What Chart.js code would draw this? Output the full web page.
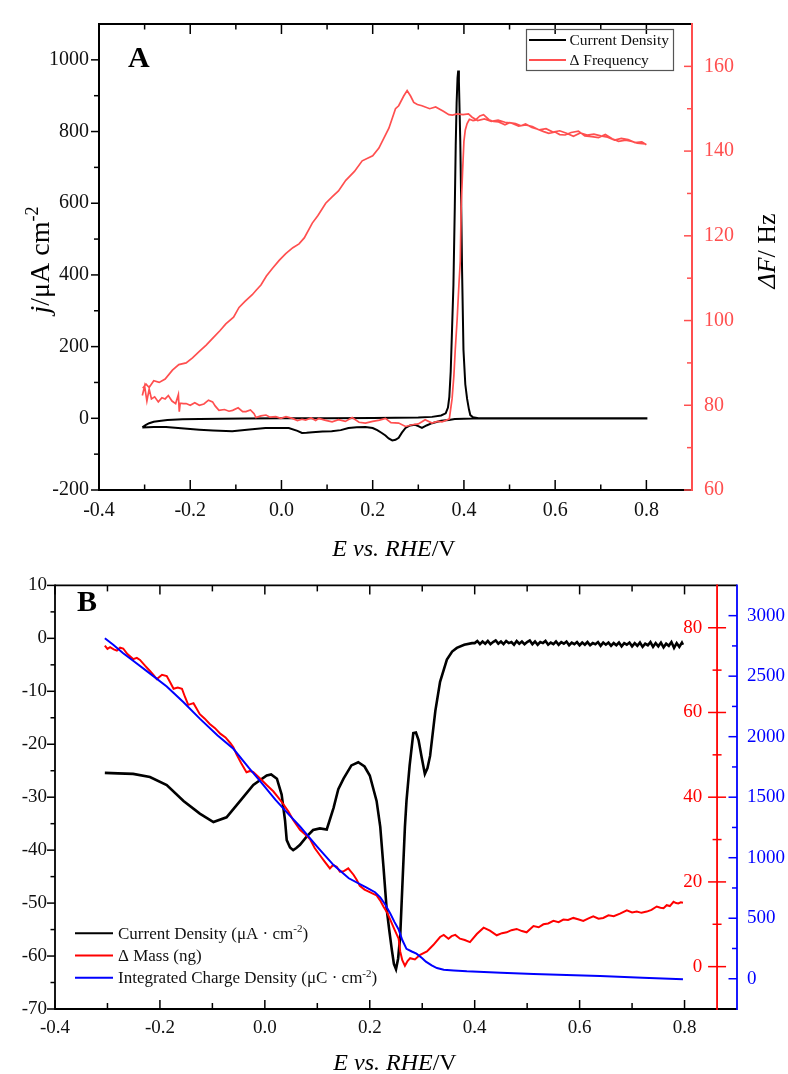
<!DOCTYPE html>
<html lang="en"><head><meta charset="utf-8"><title>Chart</title>
<script src="https://cdn.jsdelivr.net/npm/chart.js@4.4.1/dist/chart.umd.min.js"></script>
<style>
html,body{margin:0;padding:0;background:#fff;}
#wrapA{position:absolute;left:0;top:0;width:788px;height:560px;}
#wrapB{position:absolute;left:0;top:560px;width:788px;height:514px;}
canvas{display:block;}
</style></head><body>
<div id="wrapA"><canvas id="chartA" width="788" height="560"></canvas></div>
<div id="wrapB"><canvas id="chartB" width="788" height="514"></canvas></div>
<script>
// ---------- shared tick arrays ----------
const xTicks = [-0.4, -0.2, 0, 0.2, 0.4, 0.6, 0.8];
const xMinor = [-0.3, -0.1, 0.1, 0.3, 0.5, 0.7];

// ---------- Panel A ----------
const jTicksA = [-200, 0, 200, 400, 600, 800, 1000];
const jMinorA = [-100, 100, 300, 500, 700, 900];
const fTicksA = [60, 80, 100, 120, 140, 160];
const fMinorA = [70, 90, 110, 130, 150];

// Current density loop (anodic sweep then cathodic sweep)
const cdA_E = [
  -0.305,-0.298,-0.29,-0.28,-0.268,-0.25,-0.217,-0.18,-0.13,-0.08,
  0.0,0.1,0.2,0.3,0.33,0.35,0.36,0.365,0.368,0.371,
  0.374,0.377,0.38,0.382,0.384,0.386,0.3875,0.389,0.3905,0.392,
  0.394,0.396,0.399,0.403,0.407,0.411,0.414,0.42,0.432,0.5,
  0.6,0.7,0.8,
  0.8,0.7,0.6,0.5,0.42,0.38,0.367,0.35,0.33,0.318,
  0.308,0.3,0.293,0.282,0.272,0.264,0.257,0.25,0.243,0.235,
  0.228,0.22,0.21,0.2,0.184,0.165,0.147,0.13,0.11,0.09,
  0.068,0.055,0.045,0.035,0.016,0.0,-0.035,-0.07,-0.108,-0.15,
  -0.18,-0.22,-0.253,-0.28,-0.305
];
const cdA_j = [
  -25,-19,-13.6,-9.5,-7.2,-5,-2.6,-1.8,-1,-0.5,
  0,0.3,0.8,2,4,8,14,30,60,130,
  250,372,590,760,880,950,970,940,860,772,
  600,409,191,95,54,25,9,3,0.5,0,
  0,0,0,
  -0.5,-0.5,-0.5,-0.5,-0.8,-2,-4.5,-7,-13.6,-20,
  -27,-22,-18,-20,-27,-40,-54.5,-60,-61.6,-56,
  -48,-40.9,-33,-27,-24.5,-25,-27,-33,-36.2,-37,
  -39,-40.5,-40.9,-35,-27,-27,-27,-31,-36.2,-34,
  -31.7,-28,-24.5,-24.5,-25.3
];

// Frequency change loop
const dfA_E = [
  -0.305,-0.300,-0.295,-0.290,-0.285,-0.278,-0.27,-0.262,-0.255,-0.248,
  -0.24,-0.232,-0.226,-0.224,-0.222,-0.215,-0.209,-0.2,-0.19,-0.18,
  -0.17,-0.16,-0.151,-0.145,-0.137,-0.125,-0.115,-0.107,-0.095,-0.085,
  -0.078,-0.068,-0.06,-0.056,-0.045,-0.034,-0.025,-0.0125,-0.0015,0.01,
  0.024,0.035,0.045,0.053,0.065,0.075,0.082,0.095,0.111,0.125,
  0.14,0.155,0.17,0.184,0.2,0.215,0.228,0.24,0.257,0.272,
  0.287,0.3,0.308,0.315,0.33,0.342,0.352,0.36,0.368,0.374,
  0.378,0.381,0.385,0.389,0.392,0.394,0.397,0.40,0.403,0.407,
  0.412,0.42,
  0.425,0.435,0.443,0.455,0.465,0.476,0.49,0.5,0.513,0.525,
  0.535,0.549,0.56,0.575,0.586,0.6,0.61,0.622,0.635,0.651,
  0.665,0.68,0.695,0.71,0.725,0.739,0.755,0.768,0.78,0.797,
  0.8,0.79,0.775,0.76,0.745,0.73,0.715,0.70,0.685,0.67,
  0.655,0.64,0.625,0.61,0.595,0.58,0.565,0.55,0.535,0.52,
  0.505,0.49,0.475,0.46,0.445,0.43,0.418,0.41,0.398,0.385,
  0.375,0.367,0.355,0.338,0.325,0.308,0.298,0.29,0.283,0.2755,
  0.268,0.257,0.25,0.2355,0.2136,0.2,0.177,0.16,0.141,0.125,
  0.111,0.097,0.08,0.0676,0.05,0.0385,0.025,0.0094,-0.005,-0.02,
  -0.033,-0.045,-0.055,-0.064,-0.08,-0.093,-0.105,-0.122,-0.135,-0.151,
  -0.165,-0.18,-0.195,-0.209,-0.225,-0.239,-0.255,-0.268,-0.28,-0.29,
  -0.297,-0.304
];
const dfA_Hz = [
  82.3,84.5,81.0,83.8,81.5,82.0,80.8,81.8,81.5,82.3,
  81.0,80.4,82.5,78.5,80.5,80.4,80.4,80.0,80.6,80.0,
  80.3,81.2,80.8,79.8,78.8,79.0,78.6,78.8,79.4,78.5,
  78.5,78.9,78.0,77.1,77.5,77.7,77.2,77.3,76.9,77.3,
  76.9,76.4,76.7,76.5,77.0,76.4,76.9,76.5,76.1,76.6,
  76.2,77.1,76.0,75.8,76.2,76.5,76.9,75.9,75.8,75.0,
  75.4,75.6,76.1,76.6,75.8,76.2,76.1,76.4,76.8,81.5,
  87.0,93.1,100.0,108.4,114.0,126.9,135.0,142.3,145.0,146.5,
  147.5,147.2,
  147.3,148.3,148.6,147.4,147.0,146.9,146.2,146.7,146.5,146.0,
  146.4,145.6,145.2,144.6,144.2,144.5,143.9,143.8,144.4,144.7,
  143.6,143.4,143.2,143.9,142.9,142.3,142.6,142.3,141.9,141.7,
  141.5,142.2,142.0,142.7,143.0,142.6,143.3,143.6,144.0,143.8,
  144.3,143.5,144.2,144.8,144.5,145.3,145.0,145.8,146.2,145.9,
  146.6,146.8,147.3,147.0,147.6,147.2,148.0,148.8,148.6,148.8,
  148.5,148.6,149.4,150.4,150.0,150.7,151.0,151.5,153.0,154.3,
  153.0,150.7,150.0,145.4,140.7,138.9,137.7,135.2,133.1,130.6,
  129.2,127.7,124.8,123.0,119.5,118.1,117.2,115.8,114.2,112.3,
  110.5,108.4,107.2,106.1,104.5,103.1,100.8,99.2,97.6,95.8,
  94.2,92.7,91.2,90.0,89.6,88.3,86.2,85.4,85.8,84.2,
  85.0,84.0
];

// ---------- Panel B ----------
const jTicksB = [-70, -60, -50, -40, -30, -20, -10, 0, 10];
const jMinorB = [-65, -55, -45, -35, -25, -15, -5, 5];
const mTicksB = [0, 20, 40, 60, 80];
const mMinorB = [10, 30, 50, 70];
const qTicksB = [0, 500, 1000, 1500, 2000, 2500, 3000];
const qMinorB = [250, 750, 1250, 1750, 2250, 2750];

const cdB_E = [
  -0.305,-0.28,-0.251,-0.219,-0.187,-0.155,-0.124,-0.098,-0.073,-0.047,
  -0.022,0.0036,0.012,0.023,0.032,0.0385,0.0417,0.048,0.054,0.06,
  0.067,0.08,0.092,0.105,0.118,0.131,0.14,0.15,0.165,0.178,
  0.19,0.2,0.213,0.22,0.226,0.232,0.237,0.242,0.246,0.25,
  0.254,0.258,0.262,0.267,0.27,0.276,0.283,0.288,0.293,0.299,
  0.305,0.31,0.315,0.325,0.334,0.347,0.357,0.366,0.38,0.395,
  0.400,0.405,0.410,0.415,0.420,0.425,0.430,0.435,0.440,0.445,
  0.450,0.455,0.460,0.465,0.470,0.475,0.480,0.485,0.490,0.495,
  0.500,0.505,0.510,0.515,0.520,0.525,0.530,0.535,0.540,0.545,
  0.550,0.555,0.560,0.565,0.570,0.575,0.580,0.585,0.590,0.595,
  0.600,0.605,0.610,0.615,0.620,0.625,0.630,0.635,0.640,0.645,
  0.650,0.655,0.660,0.665,0.670,0.675,0.680,0.685,0.690,0.695,
  0.700,0.705,0.710,0.715,0.720,0.725,0.730,0.735,0.740,0.745,
  0.750,0.755,0.760,0.765,0.770,0.775,0.780,0.785,0.790,0.795,
  0.797
];
const cdB_j = [
  -25.4,-25.5,-25.6,-26.2,-27.7,-30.7,-33.1,-34.7,-33.8,-30.7,
  -27.7,-25.9,-25.7,-26.5,-29.5,-34.4,-38.1,-39.5,-40,-39.6,
  -39,-37.4,-36.2,-35.9,-36.1,-32,-28.5,-26.5,-24,-23.4,
  -24.2,-25.9,-30.7,-35.6,-43,-50.9,-55,-58.8,-61.5,-62.5,
  -60.5,-56.3,-47,-35.6,-30.7,-24,-17.9,-17.8,-19.2,-22.5,
  -25.6,-24.5,-22.2,-13.7,-8.2,-4.0,-2.5,-1.8,-1.2,-0.9,
  -0.9,-0.5,-1.1,-0.6,-1.0,-0.5,-1.1,-0.7,-0.4,-1.0,
  -0.6,-1.1,-0.5,-0.9,-0.7,-1.2,-0.5,-1.0,-0.6,-1.1,
  -0.7,-0.4,-1.1,-0.6,-1.2,-0.7,-0.9,-0.5,-1.2,-0.8,
  -1.1,-0.6,-1.2,-0.7,-1.0,-0.6,-1.3,-0.8,-1.1,-0.7,
  -1.3,-0.8,-1.2,-0.7,-1.3,-0.9,-1.1,-0.7,-1.4,-0.8,
  -1.2,-0.8,-1.4,-0.9,-1.3,-0.8,-1.5,-0.9,-1.2,-0.8,
  -1.5,-0.9,-1.4,-0.8,-1.6,-1.0,-1.3,-0.7,-1.6,-0.9,
  -1.5,-0.8,-1.7,-1.0,-1.4,-0.7,-1.8,-0.9,-1.6,-0.8,
  -1.2
];

const massB_E = [
  -0.305,-0.300,-0.295,-0.288,-0.282,-0.276,-0.270,-0.262,-0.251,-0.244,
  -0.238,-0.228,-0.219,-0.212,-0.206,-0.196,-0.187,-0.180,-0.174,-0.166,
  -0.158,-0.152,-0.146,-0.136,-0.124,-0.115,-0.105,-0.095,-0.085,-0.075,
  -0.066,-0.060,-0.054,-0.045,-0.035,-0.028,-0.022,-0.009,0.0034,0.016,
  0.025,0.035,0.045,0.054,0.067,0.076,0.086,0.095,0.105,0.114,
  0.124,0.130,0.137,0.143,0.150,0.159,0.169,0.175,0.181,0.190,
  0.200,0.213,0.220,0.226,0.233,0.239,0.247,0.255,0.258,0.262,
  0.267,0.272,0.277,0.286,0.296,0.309,0.321,0.334,0.341,0.350,
  0.356,0.363,0.372,0.381,0.391,0.404,0.417,0.429,0.442,0.452,
  0.461,0.470,0.480,0.490,0.499,0.512,0.522,0.531,0.540,0.550,
  0.560,0.569,0.578,0.588,0.597,0.607,0.617,0.626,0.636,0.645,
  0.655,0.665,0.677,0.690,0.700,0.709,0.718,0.728,0.737,0.747,
  0.754,0.760,0.766,0.772,0.779,0.784,0.788,0.793,0.797
];
const massB_ng = [
  75.8,75.0,75.4,74.9,74.6,75.3,75.1,73.8,72.6,72.9,
  72.4,71.0,69.8,68.8,67.9,68.9,68.6,67.0,65.6,65.9,
  65.6,63.6,61.8,62.2,59.6,58.6,57.3,56.3,55.0,54.1,
  52.8,51.8,50.1,48.0,45.9,46.2,45.9,44.4,42.9,41.4,
  40.0,38.4,36.6,34.6,32.3,31.3,30.1,28.0,26.3,24.8,
  23.2,24.0,23.6,22.4,22.5,23.2,21.7,20.5,19.1,18.2,
  17.6,16.8,15.6,14.2,12.8,11.1,8.8,6.6,3.6,1.5,
  0.2,1.3,2.0,1.7,2.8,3.6,5.1,7.0,7.5,6.6,
  7.2,7.5,6.6,6.3,5.8,7.7,9.2,8.5,7.4,7.9,
  8.1,8.6,8.9,8.4,8.1,9.6,9.3,10.0,10.2,10.8,
  10.5,11.1,11.0,11.5,11.2,10.8,11.4,11.9,11.3,11.5,
  12.1,11.9,12.5,13.3,12.8,13.0,12.7,13.0,13.4,14.2,
  13.9,13.8,14.5,14.3,15.3,15.0,14.9,15.2,15.1
];

const qB_E = [
  -0.305,-0.289,-0.270,-0.251,-0.220,-0.187,-0.155,-0.124,-0.090,-0.060,
  -0.030,-0.009,0.020,0.045,0.067,0.100,0.131,0.160,0.194,0.210,
  0.220,0.230,0.239,0.247,0.255,0.262,0.270,0.280,0.289,0.300,
  0.307,0.318,0.328,0.341,0.360,0.385,0.450,0.512,0.575,0.639,
  0.720,0.797
];
const qB_C = [
  2813,2760,2690,2627,2525,2415,2285,2149,2010,1900,
  1740,1633,1480,1360,1258,1090,939,830,753,715,
  673,610,540,470,407,320,247,225,207,170,
  141,110,88,75,68,61,50,40,31,22,
  8,-5
];

// ---------- helpers ----------
const SERIF = '"Liberation Serif", "Times New Roman", serif';
const RED_A = '#ff4f4f';
const RED_B = '#ff0000';
const BLUE_B = '#0000ff';
function pts(xs, ys) { return xs.map((x, i) => ({ x: x, y: ys[i] })); }
function fnt(size, it, bd) { return (it ? 'italic ' : '') + (bd ? 'bold ' : '') + size + 'px ' + SERIF; }
function richWidth(ctx, segs, size) {
  return segs.map(s => { ctx.font = fnt(s.sup ? size * 0.65 : size, s.i, s.b); return ctx.measureText(s.t).width; });
}
function drawRich(ctx, segs, x, y, size, color, rot, align) {
  ctx.save();
  ctx.translate(x, y);
  if (rot) ctx.rotate(rot);
  ctx.fillStyle = color; ctx.textBaseline = 'alphabetic'; ctx.textAlign = 'left';
  const ws = richWidth(ctx, segs, size);
  const total = ws.reduce((a, b) => a + b, 0);
  let cx = align === 'left' ? 0 : -total / 2;
  segs.forEach((s, k) => {
    ctx.font = fnt(s.sup ? size * 0.65 : size, s.i, s.b);
    ctx.fillText(s.t, cx, s.sup ? -size * 0.4 : 0);
    cx += ws[k];
  });
  ctx.restore();
}
function labelSegs(label) {
  const k = label.indexOf('cm-2');
  if (k < 0) return [{ t: label }];
  return [{ t: label.slice(0, k + 2) }, { t: '-2', sup: true }, { t: label.slice(k + 4) }];
}
const plain = v => String(v);
const oneDec = v => v.toFixed(1);
// labels of the offset axis are right-aligned on the axis line: pad them away from it
const padded = v => String(v) + '\u2002\u2009\u200A';

// axis frames, tick marks (major + minor), drawn from the chart's scales
const decorPlugin = {
  id: 'decor',
  afterDatasetsDraw(chart, args, o) {
    const ctx = chart.ctx, ca = chart.chartArea;
    ctx.save();
    ctx.lineCap = 'butt';
    for (const a of o.axes) {
      const sc = chart.scales[a.scale];
      ctx.strokeStyle = a.color;
      if (a.orient === 'v') {
        const X = a.at === 'left' ? ca.left : a.at === 'right' ? ca.right : chart.scales.x.getPixelForValue(a.at);
        ctx.lineWidth = a.lw;
        ctx.beginPath(); ctx.moveTo(X, ca.top - a.lw / 2); ctx.lineTo(X, ca.bottom + a.lw / 2); ctx.stroke();
        ctx.lineWidth = a.tw;
        const tk = (vals, r) => vals.forEach(v => {
          const Y = sc.getPixelForValue(v);
          ctx.beginPath(); ctx.moveTo(X + r[0], Y); ctx.lineTo(X + r[1], Y); ctx.stroke();
        });
        tk(a.major, a.majLen); tk(a.minor, a.minLen);
      } else {
        const Y = a.at === 'bottom' ? ca.bottom : ca.top;
        ctx.lineWidth = a.lw;
        ctx.beginPath(); ctx.moveTo(ca.left, Y); ctx.lineTo(ca.right, Y); ctx.stroke();
        ctx.lineWidth = a.tw;
        const tk = (vals, r) => vals.forEach(v => {
          const X = sc.getPixelForValue(v);
          ctx.beginPath(); ctx.moveTo(X, Y + r[0]); ctx.lineTo(X, Y + r[1]); ctx.stroke();
        });
        tk(a.major, a.majLen); tk(a.minor, a.minLen);
      }
    }
    ctx.restore();
  }
};

// rich (italic / superscript) axis titles and panel letters
const textPlugin = {
  id: 'richText',
  afterDraw(chart, args, o) {
    for (const t of o.items) drawRich(chart.ctx, t.segs, t.x, t.y, t.size, t.color || '#000', t.rot || 0, t.align);
  }
};

// legend built from the datasets
const legendPlugin = {
  id: 'lineLegend',
  afterDraw(chart, args, o) {
    const ctx = chart.ctx;
    ctx.save();
    if (o.box) {
      ctx.strokeStyle = o.boxColor; ctx.lineWidth = 1.2;
      ctx.strokeRect(o.box[0], o.box[1], o.box[2], o.box[3]);
    }
    chart.data.datasets.forEach((ds, i) => {
      const y = o.y + i * o.dy;
      ctx.strokeStyle = ds.borderColor; ctx.lineWidth = o.lw;
      ctx.beginPath(); ctx.moveTo(o.x, y); ctx.lineTo(o.x + o.len, y); ctx.stroke();
      drawRich(ctx, labelSegs(ds.label), o.x + o.len + o.gap, y + o.size * 0.33, o.size, '#111', 0, 'left');
    });
    ctx.restore();
  }
};

function linScale(extra) {
  return Object.assign({
    type: 'linear',
    grid: { display: false, drawTicks: false },
    border: { display: false }
  }, extra);
}
function tickSetter(arr) { return s => { s.ticks = arr.map(v => ({ value: v })); }; }

// ---------- Chart A ----------
new Chart(document.getElementById('chartA'), {
  type: 'scatter',
  data: {
    datasets: [
      { label: 'Current Density', data: pts(cdA_E, cdA_j), yAxisID: 'y', showLine: true,
        borderColor: '#000', borderWidth: 2, pointRadius: 0, order: 2 },
      { label: 'Δ Frequency', data: pts(dfA_E, dfA_Hz), yAxisID: 'y2', showLine: true,
        borderColor: RED_A, borderWidth: 1.7, pointRadius: 0, order: 1 }
    ]
  },
  options: {
    responsive: false, animation: false, events: [],
    layout: { padding: { top: 13, left: 0, right: 0, bottom: 0 } },
    scales: {
      x: linScale({ position: 'bottom', min: -0.4, max: 0.9, afterBuildTicks: tickSetter(xTicks),
        afterFit: s => { s.height = 70; },
        ticks: { callback: oneDec, font: { family: SERIF, size: 20 }, color: '#111', padding: 9, maxRotation: 0, autoSkip: false } }),
      y: linScale({ position: 'left', min: -200, max: 1100, afterBuildTicks: tickSetter(jTicksA),
        afterFit: s => { s.width = 99; },
        ticks: { callback: plain, font: { family: SERIF, size: 20 }, color: '#111', padding: 10, autoSkip: false } }),
      y2: linScale({ position: 'right', min: 60, max: 170, afterBuildTicks: tickSetter(fTicksA),
        afterFit: s => { s.width = 96; },
        ticks: { callback: plain, font: { family: SERIF, size: 20 }, color: RED_A, padding: 12, autoSkip: false } })
    },
    plugins: {
      legend: { display: false }, tooltip: { enabled: false },
      decor: { axes: [
        { scale: 'x', orient: 'h', at: 'bottom', color: '#000', lw: 2, tw: 1.5, major: xTicks, minor: xMinor, majLen: [-10, 0], minLen: [-5.5, 0] },
        { scale: 'x', orient: 'h', at: 'top', color: '#000', lw: 2, tw: 1.5, major: xTicks, minor: xMinor, majLen: [0, 10], minLen: [0, 5.5] },
        { scale: 'y', orient: 'v', at: 'left', color: '#000', lw: 2, tw: 1.5, major: jTicksA, minor: jMinorA, majLen: [-8, 0], minLen: [-5, 0] },
        { scale: 'y2', orient: 'v', at: 'right', color: RED_A, lw: 2, tw: 1.5, major: fTicksA, minor: fMinorA, majLen: [-8, 0], minLen: [-5, 0] }
      ] },
      richText: { items: [
        { segs: [{ t: 'E vs. RHE', i: true }, { t: '/V' }], x: 394, y: 556, size: 24 },
        { segs: [{ t: 'j', i: true }, { t: '/μA cm' }, { t: '-2', sup: true }], x: 49, y: 260, size: 28, rot: -Math.PI / 2 },
        { segs: [{ t: 'ΔF', i: true }, { t: '/ Hz' }], x: 775, y: 251, size: 26, rot: -Math.PI / 2 },
        { segs: [{ t: 'A', b: true }], x: 128, y: 66.5, size: 30, align: 'left' }
      ] },
      lineLegend: { x: 529, y: 40, dy: 20, len: 37, gap: 3.5, size: 15.5, lw: 1.8, box: [526.5, 29.5, 147, 41], boxColor: '#555' }
    }
  },
  plugins: [decorPlugin, textPlugin, legendPlugin]
});

// ---------- Chart B ----------
new Chart(document.getElementById('chartB'), {
  type: 'scatter',
  data: {
    datasets: [
      { label: 'Current Density (μA · cm-2)', data: pts(cdB_E, cdB_j), yAxisID: 'y', showLine: true,
        borderColor: '#000', borderWidth: 2.6, pointRadius: 0, order: 3 },
      { label: 'Δ Mass (ng)', data: pts(massB_E, massB_ng), yAxisID: 'ym', showLine: true,
        borderColor: RED_B, borderWidth: 2, pointRadius: 0, order: 2 },
      { label: 'Integrated Charge Density (μC · cm-2)', data: pts(qB_E, qB_C), yAxisID: 'yq', showLine: true,
        borderColor: BLUE_B, borderWidth: 2, pointRadius: 0, order: 1 }
    ]
  },
  options: {
    responsive: false, animation: false, events: [],
    layout: { padding: { top: 11, left: 0, right: 0, bottom: 0 } },
    scales: {
      x: linScale({ position: 'bottom', min: -0.4, max: 0.9, afterBuildTicks: tickSetter(xTicks),
        afterFit: s => { s.height = 65; },
        ticks: { callback: oneDec, font: { family: SERIF, size: 19 }, color: '#111', padding: 8, maxRotation: 0, autoSkip: false } }),
      y: linScale({ position: 'left', min: -70, max: 10, afterBuildTicks: tickSetter(jTicksB),
        afterFit: s => { s.width = 55; },
        ticks: { callback: plain, font: { family: SERIF, size: 19 }, color: '#111', padding: 8, autoSkip: false } }),
      ym: linScale({ axis: 'y', position: { x: 0.862 }, min: -10, max: 90, afterBuildTicks: tickSetter(mTicksB),
        ticks: { callback: padded, font: { family: SERIF, size: 19 }, color: RED_B, padding: 14, autoSkip: false } }),
      yq: linScale({ axis: 'y', position: 'right', min: -250, max: 3250, afterBuildTicks: tickSetter(qTicksB),
        afterFit: s => { s.width = 51; },
        ticks: { callback: plain, font: { family: SERIF, size: 19 }, color: BLUE_B, padding: 10, autoSkip: false } })
    },
    plugins: {
      legend: { display: false }, tooltip: { enabled: false },
      decor: { axes: [
        { scale: 'x', orient: 'h', at: 'bottom', color: '#000', lw: 1.8, tw: 1.5, major: xTicks, minor: xMinor, majLen: [-9, 0], minLen: [-6, 0] },
        { scale: 'x', orient: 'h', at: 'top', color: '#000', lw: 1.8, tw: 1.5, major: xTicks, minor: xMinor, majLen: [0, 9], minLen: [0, 6] },
        { scale: 'y', orient: 'v', at: 'left', color: '#000', lw: 1.8, tw: 1.5, major: jTicksB, minor: jMinorB, majLen: [-8, 0], minLen: [-4.5, 0] },
        { scale: 'yq', orient: 'v', at: 'right', color: BLUE_B, lw: 1.8, tw: 1.5, major: qTicksB, minor: qMinorB, majLen: [-8.5, 0], minLen: [-5, 0] },
        { scale: 'ym', orient: 'v', at: 0.862, color: RED_B, lw: 1.8, tw: 1.5, major: mTicksB, minor: mMinorB, majLen: [-9, 9], minLen: [-4.5, 4.5] }
      ] },
      richText: { items: [
        { segs: [{ t: 'E vs. RHE', i: true }, { t: '/V' }], x: 395, y: 509.5, size: 24 },
        { segs: [{ t: 'B', b: true }], x: 77, y: 50.7, size: 30, align: 'left' }
      ] },
      lineLegend: { x: 75, y: 373.3, dy: 22.2, len: 38, gap: 5, size: 17, lw: 2, box: null }
    }
  },
  plugins: [decorPlugin, textPlugin, legendPlugin]
});
</script>
</body></html>
